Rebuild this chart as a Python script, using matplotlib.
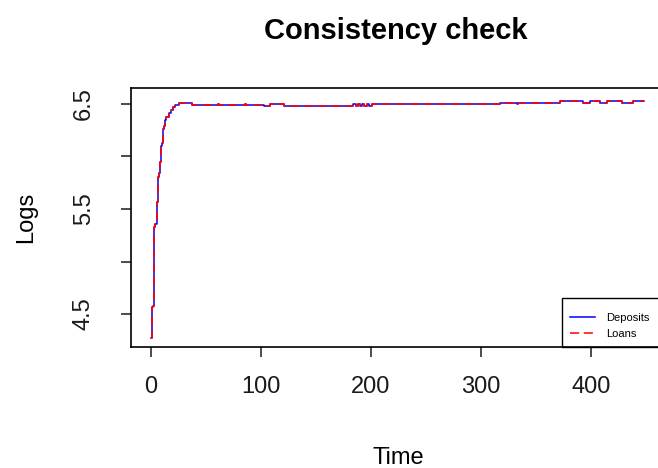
import matplotlib.pyplot as plt
from matplotlib.patches import Rectangle

plt.rcParams['font.family'] = ['Liberation Sans', 'DejaVu Sans']

# simulated series (log scale)
time = [0, 1, 2, 3, 4, 5, 6, 7, 8, 9, 10, 11, 12, 13, 14, 16, 18, 20, 22, 25,
        35, 37, 60, 61, 62, 84, 85, 86, 102, 103, 106, 108, 119, 121,
        182, 184, 186, 188, 190, 192, 194, 196, 198, 201,
        317, 332, 333, 334, 372, 393, 399, 408, 415, 428, 438, 448]
deposits = [4.27, 4.57, 4.58, 5.33, 5.36, 5.57, 5.80, 5.84, 5.95, 6.10, 6.13, 6.26, 6.29, 6.35, 6.38, 6.41, 6.44, 6.47, 6.49, 6.51,
            6.51, 6.487, 6.487, 6.495, 6.487, 6.487, 6.495, 6.487, 6.49, 6.482, 6.482, 6.50, 6.50, 6.485,
            6.485, 6.50, 6.485, 6.50, 6.485, 6.50, 6.485, 6.50, 6.485, 6.497,
            6.507, 6.507, 6.50, 6.507, 6.531, 6.512, 6.531, 6.512, 6.531, 6.512, 6.531, 6.531]
loans = deposits.copy()

fig = plt.figure(figsize=(6.58, 4.68), dpi=100)
# plot region runs past the right edge of the canvas
ax = fig.add_axes([131 / 658, 121 / 468, 540.5 / 658, 259 / 468])

ax.plot(time, deposits, color='#0000ff', lw=1.1, label='Deposits', drawstyle='steps-post')
ax.plot(time, loans, color='#ff0000', lw=1.1, ls=(0, (6, 3)), label='Loans', drawstyle='steps-post')

ax.set_xlim(-18.2, 473.2)
ax.set_ylim(4.186, 6.652)
ax.set_xticks([0, 100, 200, 300, 400])
ax.set_yticks([4.5, 5.0, 5.5, 6.0, 6.5])
ax.set_yticklabels(['4.5', '', '5.5', '', '6.5'], rotation=90, va='center')
ax.tick_params(axis='both', labelsize=17, length=7, width=1.1, direction='out', colors='#1a1a1a')
ax.tick_params(axis='x', pad=14)
ax.tick_params(axis='y', pad=19)
for s in ax.spines.values():
    s.set_linewidth(1.2)

ax.set_title('Consistency check', fontsize=21, fontweight='bold', pad=35, x=(396 - 131) / 540.5)
ax.set_xlabel('Time', fontsize=17, labelpad=35, x=(398 - 131) / 540.5)
ax.set_ylabel('Logs', fontsize=17, labelpad=26)

# legend box anchored at the bottom-right corner of the plot region
lx = (562 - 131) / 540.5
ax.add_patch(Rectangle((lx, 0), 1 - lx, 49 / 259, transform=ax.transAxes,
                       fill=False, edgecolor='black', lw=1.0, clip_on=False, zorder=5))
leg = ax.legend(loc='lower left', bbox_to_anchor=(lx, 0), fontsize=8, frameon=False,
                borderaxespad=0, handlelength=2.25, borderpad=0.7, labelspacing=0.55,
                handletextpad=1.0)

fig.savefig('out.png', dpi=100)
